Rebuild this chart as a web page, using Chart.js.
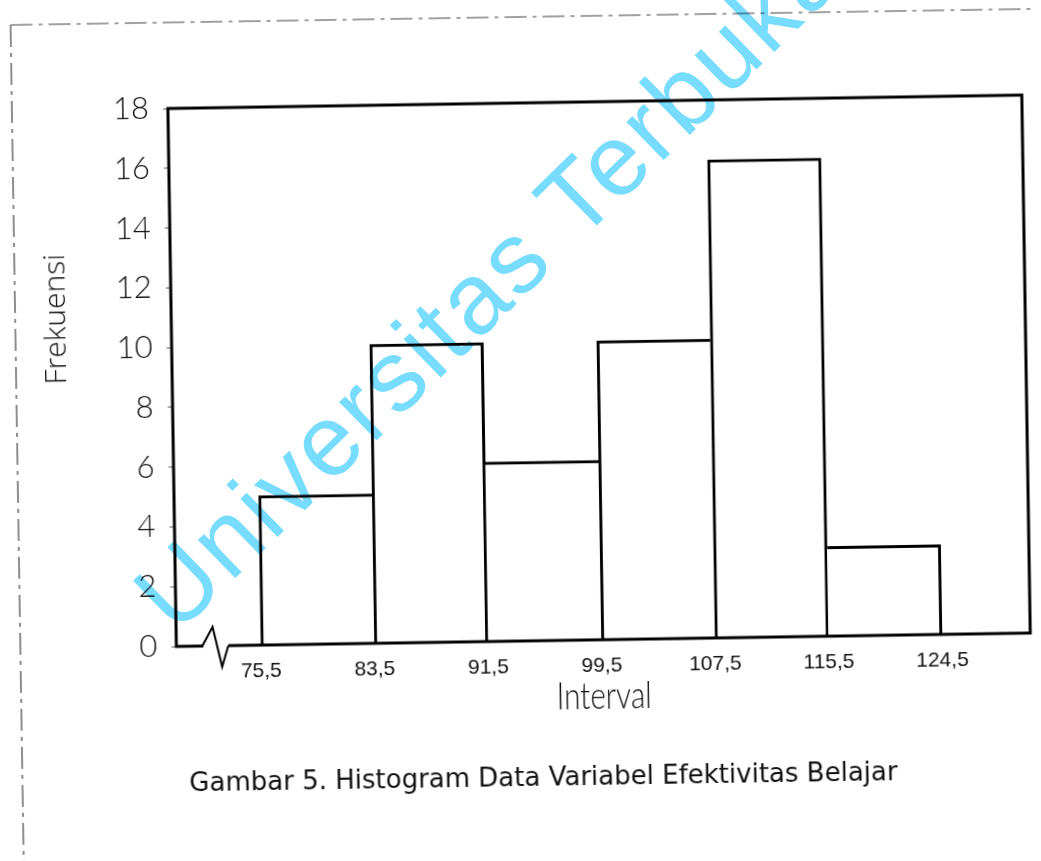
<!DOCTYPE html>
<html><head><meta charset="utf-8">
<script src="https://cdn.jsdelivr.net/npm/chart.js@4.4.1/dist/chart.umd.min.js"></script>
<style>
html,body{margin:0;padding:0;background:#fff;width:1041px;height:861px;overflow:hidden;}
#wrap{position:absolute;left:0;top:0;width:1041px;height:861px;transform:rotate(-0.9deg);transform-origin:520.5px 430.5px;}
#c{display:block;}
#wm{position:absolute;left:0;top:0;pointer-events:none;mix-blend-mode:multiply;}
</style></head><body>
<div id="wrap"><canvas id="c" width="1041" height="861"></canvas></div>
<svg id="wm" width="1041" height="861" xmlns="http://www.w3.org/2000/svg"><text x="176" y="636" transform="rotate(-44.3 176 636)" font-family="'Liberation Sans', Arial, sans-serif" font-size="101" letter-spacing="3" fill="#78dcfe">Universitas Terbuka</text></svg>
<script>
// ---- data ----
const binEdges = ['75,5', '83,5', '91,5', '99,5', '107,5', '115,5', '124,5'];
const frequencies = [5, 10, 6, 10, 16, 3];
const yMax = 18;
const yStep = 2;
const xTitle = 'Interval';
const yTitle = 'Frekuensi';
const caption = 'Gambar 5. Histogram Data Variabel Efektivitas Belajar';

const points = frequencies.map((f, i) => ({ x: i + 0.5, y: f }));

const decor = {
  id: 'decor',
  beforeDraw(chart) {
    const ctx = chart.ctx;
    ctx.save();
    ctx.strokeStyle = '#444';
    ctx.lineWidth = 1.2;
    ctx.setLineDash([22, 6, 4, 6]);
    ctx.beginPath();
    ctx.moveTo(17, 17); ctx.lineTo(1041, 17);
    ctx.moveTo(17, 17); ctx.lineTo(17, 861);
    ctx.stroke();
    ctx.restore();
  },
  afterDraw(chart) {
    const ctx = chart.ctx;
    const a = chart.chartArea;
    ctx.save();
    // frame
    ctx.strokeStyle = '#000';
    ctx.lineWidth = 3;
    ctx.strokeRect(a.left, a.top, a.right - a.left, a.bottom - a.top);
    // axis break
    ctx.fillStyle = '#fff';
    ctx.fillRect(a.left + 27, a.bottom - 3, 25, 6);
    ctx.lineWidth = 2;
    ctx.beginPath();
    ctx.moveTo(a.left + 26, a.bottom);
    ctx.lineTo(a.left + 36.5, a.bottom - 19);
    ctx.lineTo(a.left + 45.5, a.bottom + 21);
    ctx.lineTo(a.left + 52, a.bottom);
    ctx.stroke();
    // titles
    ctx.fillStyle = '#111';
    ctx.textAlign = 'center';
    ctx.textBaseline = 'middle';
    ctx.save();
    ctx.font = "300 37px Lato, 'Open Sans', sans-serif";
    const w = ctx.measureText(xTitle).width;
    ctx.translate(600, 698);
    ctx.scale(95 / w, 1);
    ctx.fillText(xTitle, 0, 0);
    ctx.restore();
    ctx.font = "26px 'DejaVu Sans', sans-serif";
    ctx.fillText(caption, 538, 779);
    ctx.translate(58, 312);
    ctx.rotate(-Math.PI / 2);
    ctx.font = "300 30px 'Open Sans', sans-serif";
    ctx.fillText(yTitle, 0, 0);
    ctx.restore();
  }
};

new Chart(document.getElementById('c'), {
  type: 'bar',
  data: {
    datasets: [{
      data: points,
      backgroundColor: '#fff',
      borderColor: '#000',
      borderSkipped: 'start',
      borderWidth: (c) => {
        const i = c.dataIndex, d = frequencies;
        return {
          top: 3, bottom: 0,
          left: (i === 0 || d[i] >= d[i - 1]) ? 3 : 0,
          right: (i === d.length - 1 || d[i] > d[i + 1]) ? 3 : 0
        };
      },
      barPercentage: 1,
      categoryPercentage: 1
    }]
  },
  options: {
    responsive: false,
    animation: false,
    devicePixelRatio: 1,
    layout: { padding: { top: 103, right: 14, bottom: 0, left: 0 } },
    plugins: { legend: { display: false }, tooltip: { enabled: false }, title: { display: false } },
    scales: {
      x: {
        type: 'linear',
        offset: false,
        min: -0.745,
        max: 6.777,
        grid: { display: false, drawTicks: false },
        border: { display: false },
        afterFit: (s) => { s.height = 220; },
        ticks: {
          stepSize: 1,
          includeBounds: false,
          autoSkip: false,
          maxRotation: 0,
          padding: 14,
          color: '#111',
          font: { family: "'Liberation Sans', Arial, sans-serif", size: 21 },
          callback: (v) => (Number.isInteger(v) && v >= 0 && v < binEdges.length) ? binEdges[v] : ''
        }
      },
      y: {
        min: 0,
        max: yMax,
        grid: { display: true, drawOnChartArea: false, drawTicks: true, tickLength: 5, color: '#666', lineWidth: 1 },
        border: { display: false },
        afterFit: (s) => { s.width = 173; },
        ticks: {
          stepSize: yStep,
          padding: 14,
          color: '#111',
          font: { family: "Lato, 'Open Sans', sans-serif", size: 31, weight: '300' }
        }
      }
    }
  },
  plugins: [decor]
});
</script>
</body></html>
